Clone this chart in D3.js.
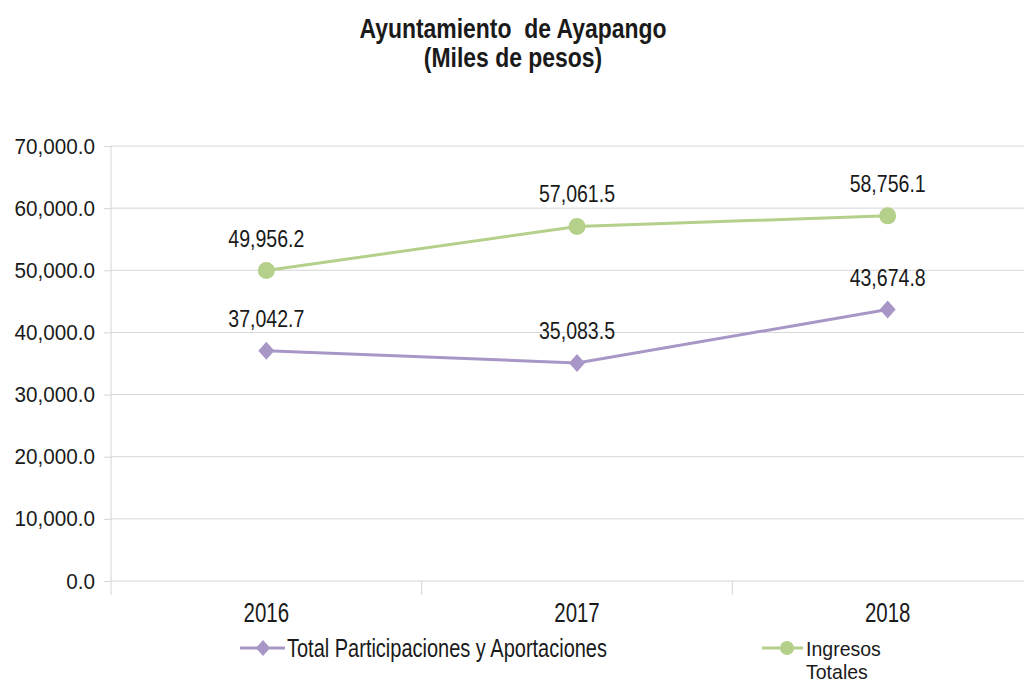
<!DOCTYPE html>
<html><head><meta charset="utf-8">
<script src="https://cdn.jsdelivr.net/npm/d3@7"></script>
<style>
body{margin:0;background:#fff;}
text{font-family:"Liberation Sans",Arial,sans-serif;fill:#1a1a1a;white-space:pre;}
</style></head>
<body><svg id="c" width="1024" height="683"></svg>
<script>
const categories = ["2016","2017","2018"];
const participaciones = [37042.7, 35083.5, 43674.8];
const ingresos = [49956.2, 57061.5, 58756.1];
const yTicks = [0,10000,20000,30000,40000,50000,60000,70000];
const seriesNames = ["Total Participaciones y Aportaciones","Ingresos Totales"];

const svg = d3.select("#c");
const mLeft=111, mRight=1043, mTop=146, mBottom=581;
const x = d3.scaleBand().domain(categories).range([mLeft,mRight]);
const y = d3.scaleLinear().domain([0,70000]).range([mBottom,mTop]);
const fmt = d3.format(",.1f");
const bw = x.bandwidth();
const cx = c => x(c)+bw/2;

// narrow text helper: places text at (px,py) scaled horizontally by s
function ntext(g, px, py, s, size, anchor, str, bold){
  const t = g.append("text").attr("transform",`translate(${px},${py}) scale(${s},1)`)
    .attr("text-anchor",anchor).attr("xml:space","preserve").style("font-size",size+"px").text(str);
  if(bold) t.style("font-weight","bold");
  return t;
}

ntext(svg,513,38,0.85,27,"middle","Ayuntamiento  de Ayapango",true);
ntext(svg,513,67,0.85,27,"middle","(Miles de pesos)",true);

// gridlines
svg.append("g").selectAll("line").data(yTicks).join("line")
  .attr("x1",mLeft).attr("x2",1024).attr("y1",d=>y(d)).attr("y2",d=>y(d))
  .attr("stroke","#d6d6d6").attr("stroke-width",1);

const ya = d3.axisLeft(y).tickValues(yTicks).tickFormat(fmt).tickSize(7).tickPadding(9);
const gy = svg.append("g").attr("transform",`translate(${mLeft},0)`).call(ya);
gy.select(".domain").remove();
gy.selectAll(".tick line").attr("stroke","#d6d6d6");
gy.selectAll(".tick text").each(function(){
  const t=d3.select(this); const tx=+t.attr("x");
  t.attr("x",0).attr("transform",`translate(${tx},0) scale(0.94,1)`)
   .attr("fill","#1a1a1a").style("font-size","22px").attr("font-family",null);
});
svg.append("line").attr("x1",mLeft).attr("x2",mLeft).attr("y1",mTop).attr("y2",mBottom)
  .attr("stroke","#d6d6d6");

// x axis ticks at band boundaries
const xa = svg.append("g").attr("transform",`translate(0,${mBottom})`);
xa.selectAll("line").data(categories.concat([null])).join("line")
  .attr("x1",(d,i)=>mLeft+i*bw).attr("x2",(d,i)=>mLeft+i*bw).attr("y1",0).attr("y2",14)
  .attr("stroke","#d6d6d6");
categories.forEach(c=>ntext(xa,cx(c),41,0.73,28,"middle",c));

const line = d3.line().x((d,i)=>cx(categories[i])).y(d=>y(d));
const purple="#a897c6", green="#b4d08a";
svg.append("path").datum(participaciones).attr("d",line).attr("fill","none").attr("stroke",purple).attr("stroke-width",3);
svg.append("path").datum(ingresos).attr("d",line).attr("fill","none").attr("stroke",green).attr("stroke-width",3);

const diamond = (w,h)=>`M0,${-h}L${w},0L0,${h}L${-w},0Z`;
svg.append("g").selectAll("path").data(participaciones).join("path")
  .attr("transform",(d,i)=>`translate(${cx(categories[i])},${y(d)})`)
  .attr("d",diamond(8,9)).attr("fill",purple);
svg.append("g").selectAll("circle").data(ingresos).join("circle")
  .attr("cx",(d,i)=>cx(categories[i])).attr("cy",d=>y(d)).attr("r",8.5).attr("fill",green);

const lblG = svg.append("g");
[participaciones, ingresos].forEach(arr=>arr.forEach((d,i)=>
  ntext(lblG,cx(categories[i]),y(d)-24,0.85,23,"middle",fmt(d))));

// legend
const lg = svg.append("g");
lg.append("line").attr("x1",240).attr("x2",285).attr("y1",648).attr("y2",648).attr("stroke",purple).attr("stroke-width",3);
lg.append("path").attr("transform","translate(263,648)").attr("d",diamond(7,8)).attr("fill",purple);
ntext(lg,287,657,0.8,25,"start",seriesNames[0]);
lg.append("line").attr("x1",762).attr("x2",803).attr("y1",648).attr("y2",648).attr("stroke",green).attr("stroke-width",3);
lg.append("circle").attr("cx",787).attr("cy",648).attr("r",7).attr("fill",green);
const parts = seriesNames[1].split(" ");
ntext(lg,806,656,0.93,21,"start",parts[0]);
ntext(lg,806,679,0.93,21,"start",parts[1]);
</script></body></html>
